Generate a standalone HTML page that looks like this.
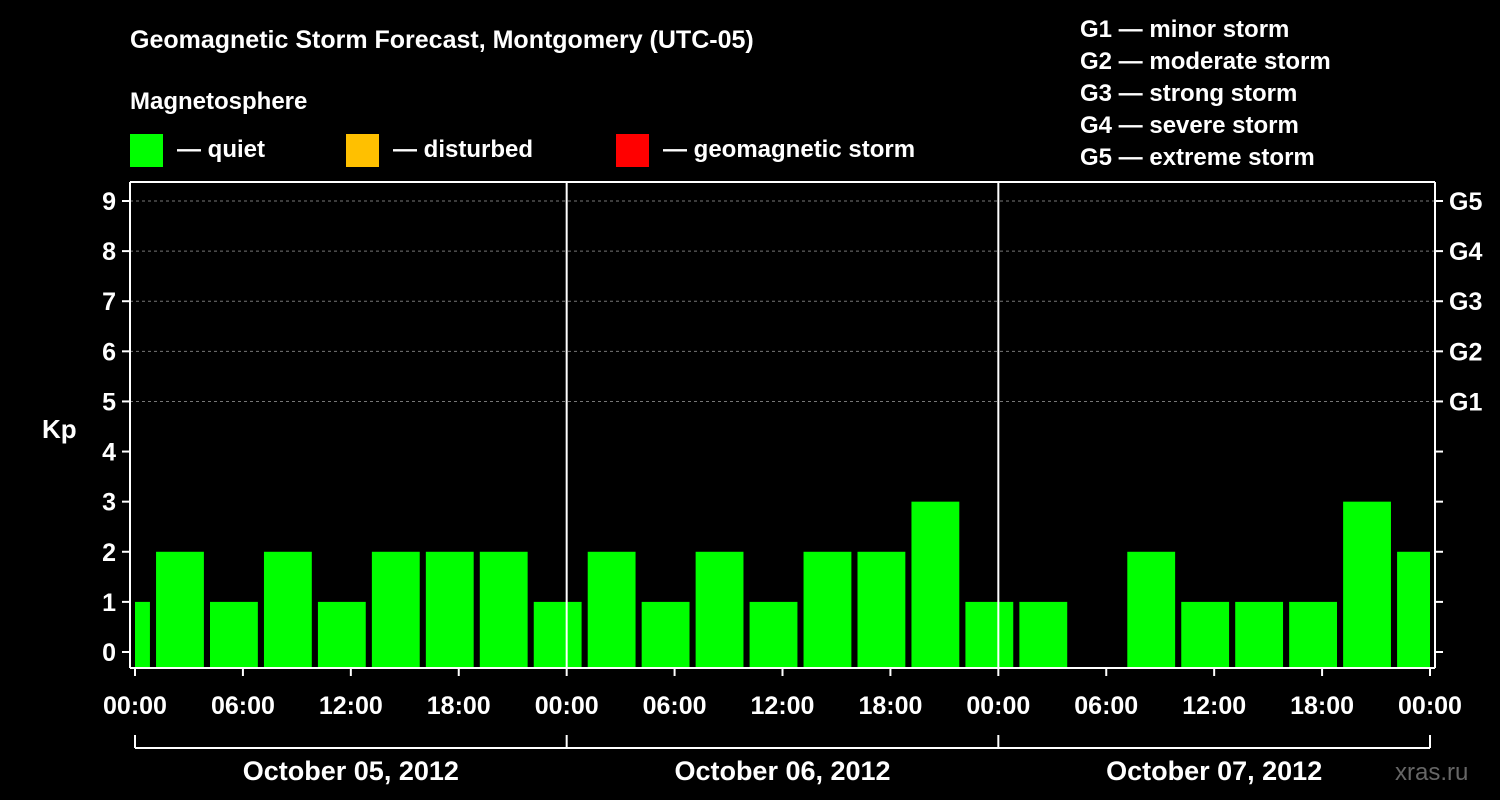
<!DOCTYPE html>
<html><head><meta charset="utf-8"><style>
body{margin:0;background:#000;}
svg{display:block;font-family:"Liberation Sans",Arial,sans-serif;font-weight:bold;}
</style></head><body>
<svg id="c" width="1500" height="800" viewBox="0 0 1500 800">
<rect width="1500" height="800" fill="#000"/>
<text x="130" y="48" fill="#fff" font-size="25">Geomagnetic Storm Forecast, Montgomery (UTC-05)</text>
<text x="130" y="109" fill="#fff" font-size="24">Magnetosphere</text>
<rect x="130" y="134" width="33" height="33" fill="#00ff00"/>
<text x="177" y="157" fill="#fff" font-size="24">— quiet</text>
<rect x="346" y="134" width="33" height="33" fill="#ffc000"/>
<text x="393" y="157" fill="#fff" font-size="24">— disturbed</text>
<rect x="616" y="134" width="33" height="33" fill="#ff0000"/>
<text x="663" y="157" fill="#fff" font-size="24">— geomagnetic storm</text>
<g fill="#fff" font-size="24">
<text x="1080" y="37">G1 — minor storm</text>
<text x="1080" y="69">G2 — moderate storm</text>
<text x="1080" y="101">G3 — strong storm</text>
<text x="1080" y="133">G4 — severe storm</text>
<text x="1080" y="165">G5 — extreme storm</text>
</g>
<text x="42" y="438" fill="#fff" font-size="26">Kp</text>
<text x="1395" y="780" fill="#666" font-size="24" font-weight="normal">xras.ru</text>
<g id="plot"></g>
</svg>
<script>
const blockStartHours=[-2,1,4,7,10,13,16,19,22,25,28,31,34,37,40,43,46,49,52,55,58,61,64,67,70];
const kpValues=[1,2,1,2,1,2,2,2,1,2,1,2,1,2,2,3,1,1,0,2,1,1,1,3,2];
const yTicks=[0,1,2,3,4,5,6,7,8,9];
const gLabels=["G1","G2","G3","G4","G5"];
const gLevels=[5,6,7,8,9];
const xTickLabels=["00:00","06:00","12:00","18:00","00:00","06:00","12:00","18:00","00:00","06:00","12:00","18:00","00:00"];
const dayLabels=["October 05, 2012","October 06, 2012","October 07, 2012"];
const NS="http://www.w3.org/2000/svg";
const g=document.getElementById('plot');
const X0=135,X1=1430,L=130,R=1435,TOP=182,BOT=668;
const x=h=>X0+h*(X1-X0)/72;
const y=v=>652-v*(652-201)/9;
function mk(t,a){const e=document.createElementNS(NS,t);for(const k in a)e.setAttribute(k,a[k]);g.appendChild(e);return e;}
// grid
gLevels.forEach(v=>{const e=mk('line',{x1:L,x2:R,y1:y(v),y2:y(v),stroke:'#777','stroke-dasharray':'3,3'});

});
// bars
blockStartHours.forEach((h,i)=>{
 let a=x(h+0.17),b=x(h+2.83);a=Math.max(a,X0);b=Math.min(b,X1);
 if(kpValues[i]<=0)return;
 const top=y(kpValues[i]);
 const r=mk('rect',{x:a,y:top,width:b-a,height:BOT-top,fill:'#00ff00'});
 
 
});
// frame
[[L,TOP,R,TOP],[L,TOP,L,BOT],[R,TOP,R,BOT],[L,BOT,R,BOT]].forEach(c=>{const e=mk('line',{x1:c[0],y1:c[1],x2:c[2],y2:c[3],stroke:'#fff','stroke-width':2});

});
[24,48].forEach(h=>{const e=mk('line',{x1:x(h),x2:x(h),y1:TOP,y2:BOT,stroke:'#fff','stroke-width':2});

});
// y ticks
yTicks.forEach(v=>{
 mk('line',{x1:L-8,x2:L,y1:y(v),y2:y(v),stroke:'#fff','stroke-width':2});
 mk('line',{x1:R,x2:R+8,y1:y(v),y2:y(v),stroke:'#fff','stroke-width':2});
 const t=mk('text',{x:L-14,y:y(v)+9,fill:'#fff','font-size':25,'text-anchor':'end'});t.textContent=v;
 
 
});
gLabels.forEach((s,i)=>{const t=mk('text',{x:1449,y:y(gLevels[i])+9,fill:'#fff','font-size':25});t.textContent=s;
 
 });
// x ticks
xTickLabels.forEach((s,i)=>{const xx=x(i*6);
 mk('line',{x1:xx,x2:xx,y1:BOT,y2:BOT+8,stroke:'#fff','stroke-width':2});
 const t=mk('text',{x:xx,y:714,fill:'#fff','font-size':25,'text-anchor':'middle'});t.textContent=s;
 
 });
mk('line',{x1:X0,x2:X1,y1:748,y2:748,stroke:'#fff','stroke-width':2});
[0,24,48,72].forEach(h=>mk('line',{x1:x(h),x2:x(h),y1:735,y2:748,stroke:'#fff','stroke-width':2}));
dayLabels.forEach((s,i)=>{const t=mk('text',{x:x(i*24+12),y:780,fill:'#fff','font-size':27,'text-anchor':'middle'});t.textContent=s;
 
 });
</script>
</body></html>
